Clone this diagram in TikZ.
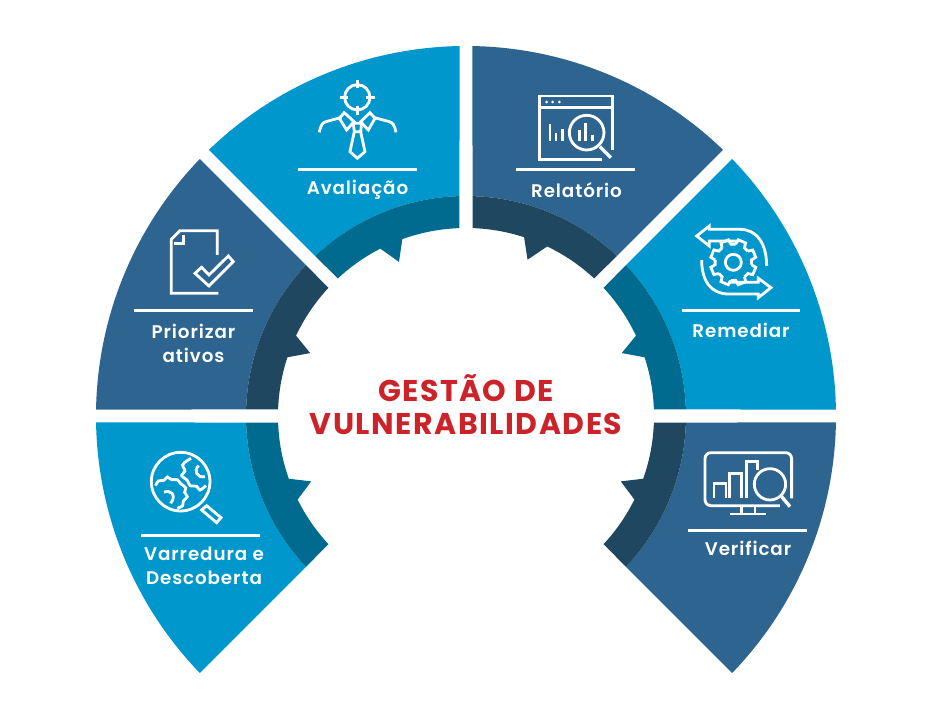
\documentclass[tikz,border=0pt]{standalone}
\usepackage{fontspec}
\usepackage{xcolor}
\setmainfont{Poppins}[BoldFont={Poppins SemiBold},LetterSpace=5]
\newfontfamily\headfont{Poppins Bold}[LetterSpace=5]
\definecolor{skyblue}{HTML}{0098CC}
\definecolor{steelblue}{HTML}{2E6590}
\definecolor{skyring}{HTML}{006B8F}
\definecolor{steelring}{HTML}{1F4860}
\definecolor{titlered}{HTML}{CC2229}
\usetikzlibrary{positioning}

\begin{document}
\begin{tikzpicture}[
    x=1pt, y=1pt,
    seclabel/.style={text=white, align=center, inner sep=0pt, font=\fontsize{18.3}{24}\selectfont\bfseries},
    headline/.style={text=titlered, align=center, inner sep=0pt, font=\fontsize{30}{33}\selectfont\headfont},
    rulebar/.style={draw=white, line width=3pt},
    iconline/.style={draw=white, line width=2.8pt, line join=miter},
    crop/.style 2 args={shift={(#1-466,416-#2)}, x=0.3333pt, y=-0.3333pt},
    page/.style={shift={(-466,416)}, y=-1pt}
]
    \useasboundingbox (-466,-304) rectangle (466,416);

    % Sectors: start, end, tooth angles, colours
    \foreach \a/\b/\ta/\tb/\tc/\mainc/\ringc in {
        -45/0/-26.4/-22.9/-19.5/steelblue/steelring,
        0/45/18.2/22/25.3/skyblue/skyring,
        45/90/64.4/68.5/72/steelblue/steelring,
        90/135/109.8/113.5/117.1/skyblue/skyring,
        135/180/154.7/158/161.8/steelblue/steelring,
        180/225/199.5/202.9/206.4/skyblue/skyring}{
        \fill[\mainc] (\a+1:370) arc[start angle=\a+1, end angle=\b-1, radius=370]
            -- (\b-1.7:220) arc[start angle=\b-1.7, end angle=\a+1.7, radius=220] -- cycle;
        \fill[\ringc] (\a+1.7:220) arc[start angle=\a+1.7, end angle=\b-1.7, radius=220]
            -- (\b-2:188) arc[start angle=\b-2, end angle=\tc, radius=188]
            -- (\tb:168) -- (\ta:188)
            arc[start angle=\ta, end angle=\a+2, radius=188] -- cycle;
    }

    % Labels
    \begin{scope}[page]
        \node[seclabel] (avaliacao) at (357.5,190) {Avaliação};
        \node[seclabel] (relatorio) at (576.5,190) {Relatório};
        \node[seclabel] (priorizar) at (193.5,343) {Priorizar\\ativos};
        \node[seclabel] (remediar) at (741,330) {Remediar};
        \node[seclabel] (varredura) at (204,566) {Varredura e\\Descoberta};
        \node[seclabel] (verificar) at (748,548) {Verificar};
        \node[headline] (gestao) at (466,405) {GESTÃO DE\\VULNERABILIDADES};

        % Rules
        \draw[rulebar] (298,170) -- (417,170);
        \draw[rulebar] (516,170) -- (635,170);
        \draw[rulebar] (134,310.5) -- (253,310.5);
        \draw[rulebar] (682,310.5) -- (800,310.5);
        \draw[rulebar] (141,535) -- (260,535);
        \draw[rulebar] (688,530) -- (807,530);
    \end{scope}

    % Icon: target and tie
    \begin{scope}[crop={200}{40}]
        \draw[iconline] (472,172) circle[radius=38];
        \draw[iconline] (472,120) -- (472,145) (472,198) -- (472,225) (420,172) -- (445,172) (498,172) -- (525,172);
        \draw[iconline] (358,277) .. controls (362,255) and (368,248) .. (378,245) -- (425,232);
        \draw[iconline] (588,277) .. controls (584,255) and (578,248) .. (568,245) -- (520,232);
        \draw[iconline] (433,218) -- (462,245) -- (440,270) -- (418,235) -- cycle;
        \draw[iconline] (510,218) -- (482,245) -- (505,270) -- (525,235) -- cycle;
        \draw[iconline] (460,250) -- (485,250) -- (482,275) -- (463,275) -- cycle;
        \draw[iconline] (463,275) -- (450,335) -- (472,355) -- (495,335) -- (482,275);
    \end{scope}

    % Icon: report window
    \begin{scope}[crop={470}{40}]
        \draw[iconline] (428,330) -- (428,168) -- (208,168) -- (208,358) -- (395,358);
        \draw[iconline] (208,203) -- (428,203);
        \foreach \dotx in {230,248,268}
            \fill[white] (\dotx,186) circle[radius=4.5];
        \draw[iconline] (350,278) circle[radius=52];
        \draw[iconline, line width=3.4pt] (390,320) -- (423,353);
        \foreach \barx/\bary in {240/252,258/280,278/268,328/270,347/250,367/285}
            \draw[iconline] (\barx,302) -- (\barx,\bary);
    \end{scope}

    % Icon: document with check
    \begin{scope}[crop={90}{160}]
        \draw[iconline] (382,285) -- (382,212) -- (270,212) -- (244,238) -- (244,400) -- (385,400);
        \draw[iconline] (280,225) -- (280,250) -- (252,250);
        \draw[iconline] (315,340) -- (335,322) -- (357,345) -- (415,288) -- (430,305) -- (357,378) -- cycle;
    \end{scope}

    % Icon: gear with two arrows
    \begin{scope}[crop={600}{160}]
        \draw[iconline] (400,307) circle[radius=24];
        \foreach \ang in {22.5,67.5,...,337.5}
            \draw[iconline, shift={(400,307)}] (\ang-15:55) -- (\ang-10:69) -- (\ang+10:69) -- (\ang+15:55) arc[start angle=\ang+15, end angle=\ang+30, radius=55];
        \draw[iconline] (500,318) .. controls (500,250) and (470,208) .. (420,208) -- (328,208) -- (328,198) -- (290,228) -- (328,258) -- (328,243) -- (415,243);
        \draw[iconline] (305,300) .. controls (305,365) and (335,402) .. (385,402) -- (475,402) -- (475,413) -- (513,383) -- (475,355) -- (475,367) -- (385,367);
    \end{scope}

    % Icon: lens with gears
    \begin{scope}[crop={90}{415}]
        \draw[iconline] (272,200) circle[radius=88];
        \draw[iconline] (335,285) -- (350,272) -- (393,308) -- (380,323) -- cycle;
        \draw[iconline] plot[smooth] coordinates {(197,212) (205,198) (222,196) (232,186) (245,194) (262,194) (272,206) (287,218) (284,232) (292,245) (280,258) (278,272) (262,280)};
        \draw[iconline] plot[smooth] coordinates {(303,130) (290,138) (278,150) (285,168) (275,182) (292,196) (300,212) (320,214) (330,225) (348,212)};
        \draw[iconline] (326,152) .. controls (310,165) and (320,190) .. (345,185);
        \draw[iconline] (222,232) .. controls (240,222) and (262,240) .. (242,265);
    \end{scope}

    % Icon: monitor with chart
    \begin{scope}[crop={600}{415}]
        \draw[iconline, rounded corners=6pt] (575,250) -- (575,113) -- (315,113) -- (315,272) -- (540,272);
        \draw[iconline] (425,272) -- (425,296) (465,272) -- (465,296) (390,297) -- (498,297);
        \draw[iconline] (342,250) -- (342,205) -- (378,205) -- (378,250);
        \draw[iconline] (388,250) -- (388,175) -- (425,175) -- (425,250);
        \draw[iconline] (440,250) -- (440,140) -- (472,140) -- (472,165);
        \draw[iconline] (510,208) circle[radius=47];
        \draw[iconline, line width=3.4pt] (545,245) -- (570,275);
    \end{scope}
\end{tikzpicture}
\end{document}
